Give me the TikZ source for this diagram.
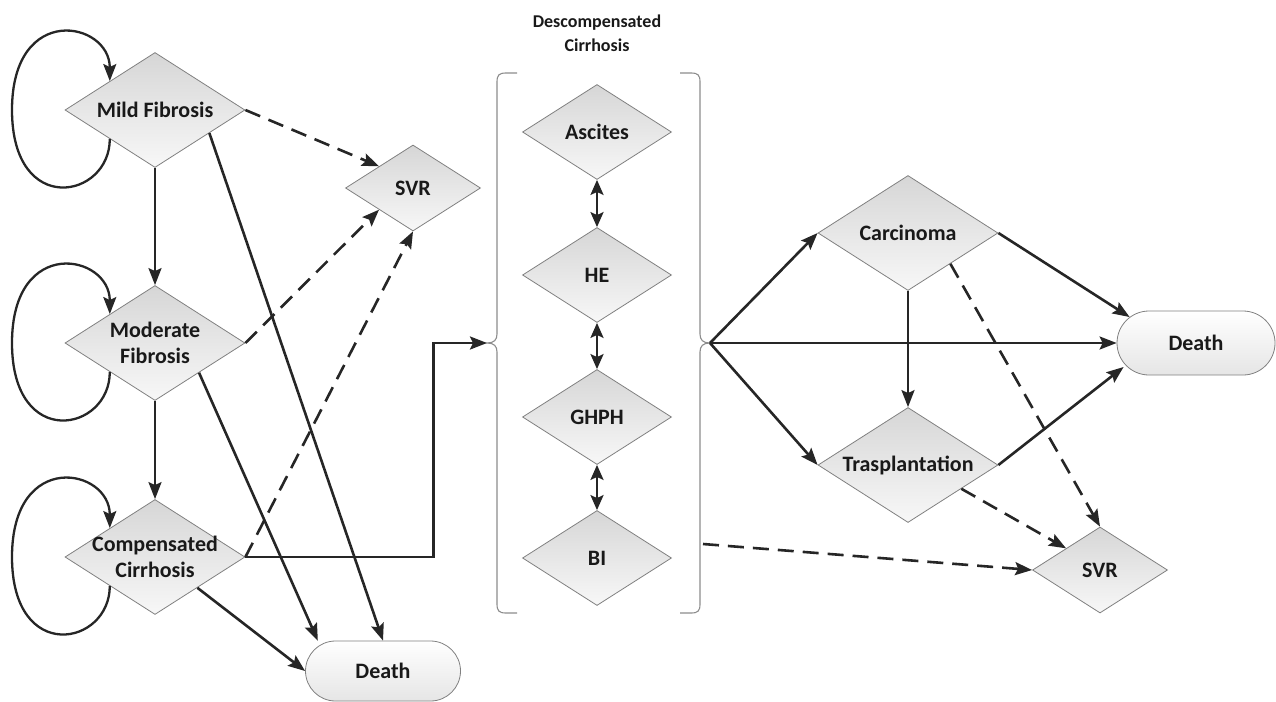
\documentclass[tikz,border=0pt]{standalone}
\usepackage{fontspec}
\setmainfont{Carlito}
\usetikzlibrary{shapes.geometric,arrows.meta}

\begin{document}
\begin{tikzpicture}[
    x=1pt, y=-1pt,
    every label/.style={font=\fontsize{22}{26}\selectfont\bfseries, text=black!90, align=center, inner sep=0pt},
    stage/.style={diamond, draw=black!50, line width=0.8pt, top color=black!16, bottom color=black!3,
        minimum width=180pt, minimum height=115pt, inner sep=0pt, label=center:{#1}},
    event/.style={stage=#1, minimum width=149pt, minimum height=95pt},
    svr/.style={stage=SVR, minimum width=135pt, minimum height=86pt},
    absorb/.style={rectangle, rounded corners=30pt, draw=black!50, line width=0.8pt, top color=white, bottom color=black!10,
        minimum width=155pt, minimum height=60pt, inner sep=0pt, font=\fontsize{22}{26}\selectfont\bfseries, text=black!90},
    heading/.style={font=\fontsize{18}{24}\selectfont\bfseries, align=center, text=black!90},
    arrow/.style={-{Stealth[length=17pt,width=13pt,inset=3pt]}, line width=2.6pt, draw=black!85},
    dasharrow/.style={arrow, dash pattern=on 16pt off 9pt},
    twoway/.style={arrow, {Stealth[length=15pt,width=13pt,inset=3pt]}-{Stealth[length=15pt,width=13pt,inset=3pt]}},
    bracket/.style={draw=black!45, line width=1.1pt}
]
\useasboundingbox (0,0) rectangle (1276,701);

% Compensated stages
\node[stage={Mild Fibrosis}] (mild) at (155,110) {};
\node[stage={Moderate\\Fibrosis}] (moderate) at (155,343) {};
\node[stage={Compensated\\Cirrhosis}] (compensated) at (155,557) {};
\node[svr] (svrA) at (413,188) {};
\node[absorb] (deathA) at (383,671) {Death};

% Descompensated cirrhosis
\node[heading] (heading) at (597,33) {Descompensated\\Cirrhosis};
\node[event=Ascites] (ascites) at (597,132) {};
\node[event=HE] (he) at (597,275) {};
\node[event=GHPH] (ghph) at (597,417) {};
\node[event=BI] (bi) at (597,558) {};

% Brackets
\draw[bracket] (517,73) -- (506,73) .. controls (499,73) and (497,75) .. (497,82) -- (497,334)
    .. controls (497,340) and (494,343) .. (487,343) .. controls (494,343) and (497,346) .. (497,352)
    -- (497,604) .. controls (497,611) and (499,613) .. (506,613) -- (517,613);
\draw[bracket] (680,73) -- (691,73) .. controls (698,73) and (700,75) .. (700,82) -- (700,334)
    .. controls (700,340) and (703,343) .. (710,343) .. controls (703,343) and (700,346) .. (700,352)
    -- (700,604) .. controls (700,611) and (698,613) .. (691,613) -- (680,613);
\coordinate (lbrace) at (487,343);
\coordinate (rbrace) at (710,343);
\coordinate (bracefoot) at (703,544);

% Late stages
\node[stage=Carcinoma] (carcinoma) at (908,233) {};
\node[stage=Trasplantation] (trasp) at (908,465) {};
\node[svr] (svrB) at (1100,570) {};
\node[absorb, minimum width=158pt, minimum height=64pt, rounded corners=32pt] (deathB) at (1196,343) {Death};

% Arrows
\foreach \s in {mild,moderate,compensated}
  \draw[arrow, line width=2.3pt] (\s.south west) .. controls +(0,60) and +(0,108) .. ([xshift=-143pt]\s.center)
      .. controls +(0,-108) and +(0,-60) .. (\s.north west);
\draw[arrow] (mild) -- (moderate);
\draw[arrow] (moderate) -- (compensated);
\draw[dasharrow] (mild.east) -- (svrA.north west);
\draw[dasharrow] (moderate.east) -- (svrA.south west);
\draw[dasharrow] (compensated.east) -- (svrA.south);
\draw[arrow] (mild.-23) -- (deathA.north);
\draw[arrow] (moderate.-34) -- (deathA.155);
\draw[arrow] (compensated.-36) -- (deathA.west);
\draw[arrow] (compensated.east) -- ++(188,0) |- (lbrace);
\draw[twoway] (ascites) -- (he);
\draw[twoway] (he) -- (ghph);
\draw[twoway] (ghph) -- (bi);
\draw[arrow] (rbrace) -- (carcinoma.west);
\draw[arrow] (rbrace) -- (deathB.west);
\draw[arrow] (rbrace) -- (trasp.west);
\draw[arrow] (carcinoma.east) -- ([xshift=13pt,yshift=26pt]deathB.west);
\draw[arrow] (carcinoma) -- (trasp);
\draw[arrow] (trasp.east) -- ([xshift=7pt,yshift=-24pt]deathB.west);
\draw[dasharrow] (carcinoma.-36) -- (svrB.north);
\draw[dasharrow] (trasp.-24) -- (svrB.north west);
\draw[dasharrow] (bracefoot) -- (svrB.west);

\end{tikzpicture}
\end{document}
